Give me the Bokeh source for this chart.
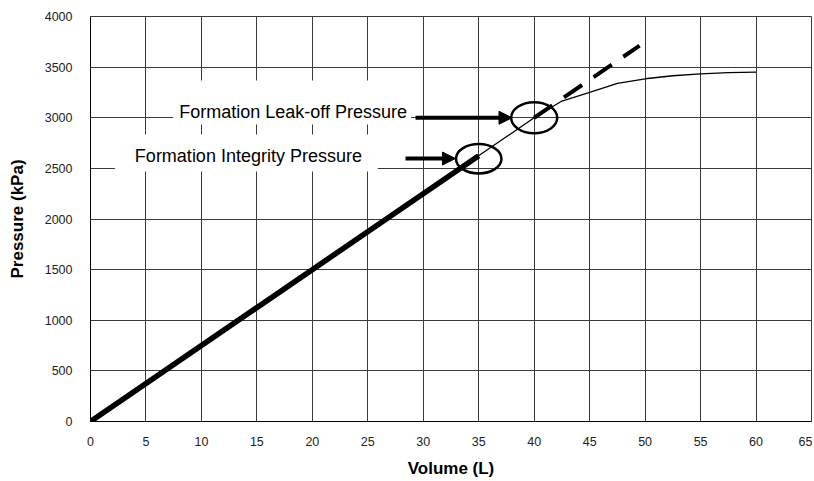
from bokeh.plotting import figure
from bokeh.models import (Label, BoxAnnotation, Arrow, NormalHead, Range1d,
                          FixedTicker)
from bokeh.embed import file_html
from bokeh.resources import INLINE

# ---- data ----
x_ticks = [0, 5, 10, 15, 20, 25, 30, 35, 40, 45, 50, 55, 60, 65]
y_ticks = [0, 500, 1000, 1500, 2000, 2500, 3000, 3500, 4000]

volume_integrity = [0, 35]
pressure_integrity = [0, 2625]

volume_curve = [0, 40, 42.5, 45, 47.5, 50, 52.5, 55, 57.5, 60]
pressure_curve = [0, 3000, 3165, 3250, 3340, 3385, 3415, 3433, 3445, 3450]

volume_extrap = [40, 49.5]
pressure_extrap = [3000, 3712]

FONT = "Liberation Sans"
GRID = "#3a3a3a"

p = figure(width=812, height=480, output_backend="svg", toolbar_location=None,
           x_range=Range1d(0, 65), y_range=Range1d(0, 4000),
           min_border_left=90, min_border_top=16, min_border_right=1,
           min_border_bottom=58)
p.background_fill_color = "white"
p.border_fill_color = "white"
p.outline_line_color = GRID
p.outline_line_width = 1

p.xaxis.ticker = FixedTicker(ticks=x_ticks)
p.yaxis.ticker = FixedTicker(ticks=y_ticks)
p.xgrid.ticker = FixedTicker(ticks=x_ticks)
p.ygrid.ticker = FixedTicker(ticks=y_ticks)
for g in (p.xgrid, p.ygrid):
    g.grid_line_color = GRID
    g.grid_line_width = 1

for ax in (p.xaxis, p.yaxis):
    ax.axis_line_color = "black"
    ax.axis_line_width = 1
    ax.major_tick_out = 0
    ax.major_tick_in = 0
    ax.minor_tick_out = 0
    ax.minor_tick_in = 0
    ax.major_label_text_font = FONT
    ax.major_label_text_font_size = "12.5px"
    ax.major_label_text_color = "#222222"
    ax.axis_label_text_font = FONT
    ax.axis_label_text_font_size = "17px"
    ax.axis_label_text_font_style = "bold"
    ax.axis_label_text_color = "black"

p.xaxis.axis_label = "Volume (L)"
p.yaxis.axis_label = "Pressure (kPa)"
p.yaxis.major_label_standoff = 18
p.yaxis.axis_label_standoff = 15
p.xaxis.major_label_standoff = 15
p.xaxis.axis_label_standoff = 10

# white boxes behind the annotation texts
p.add_layout(BoxAnnotation(left=7.45, right=28.9, bottom=2933, top=3368,
                           fill_color="white", fill_alpha=1, line_alpha=0))
p.add_layout(BoxAnnotation(left=2.2, right=25.9, bottom=2469, top=2835,
                           fill_color="white", fill_alpha=1, line_alpha=0))

# curves
p.line(volume_curve, pressure_curve, line_color="black", line_width=1.3)
p.line(volume_integrity, pressure_integrity, line_color="black", line_width=5.5)
p.line(volume_extrap, pressure_extrap, line_color="black", line_width=4,
       line_dash="22 14")

# circles marking points
p.ellipse(x=[35], y=[2595], width=4.1, height=290, fill_alpha=0,
          line_color="black", line_width=2.5)
p.ellipse(x=[40], y=[3000], width=4.15, height=306, fill_alpha=0,
          line_color="black", line_width=2.5)

# annotation arrows
p.add_layout(Arrow(x_start=29.3, y_start=3000, x_end=38.0, y_end=3000,
                   line_width=4, line_color="black",
                   end=NormalHead(size=13, fill_color="black", line_color="black")))
p.add_layout(Arrow(x_start=28.4, y_start=2597, x_end=32.9, y_end=2597,
                   line_width=4, line_color="black",
                   end=NormalHead(size=13, fill_color="black", line_color="black")))

p.add_layout(Label(x=8.0, y=3054, text="Formation Leak-off Pressure",
                   text_font=FONT, text_font_size="18px", text_color="black",
                   text_baseline="alphabetic"))
p.add_layout(Label(x=4.0, y=2621, text="Formation Integrity Pressure",
                   text_font=FONT, text_font_size="18px", text_color="black",
                   text_baseline="alphabetic"))

open("out.html", "w").write(file_html(p, INLINE))
